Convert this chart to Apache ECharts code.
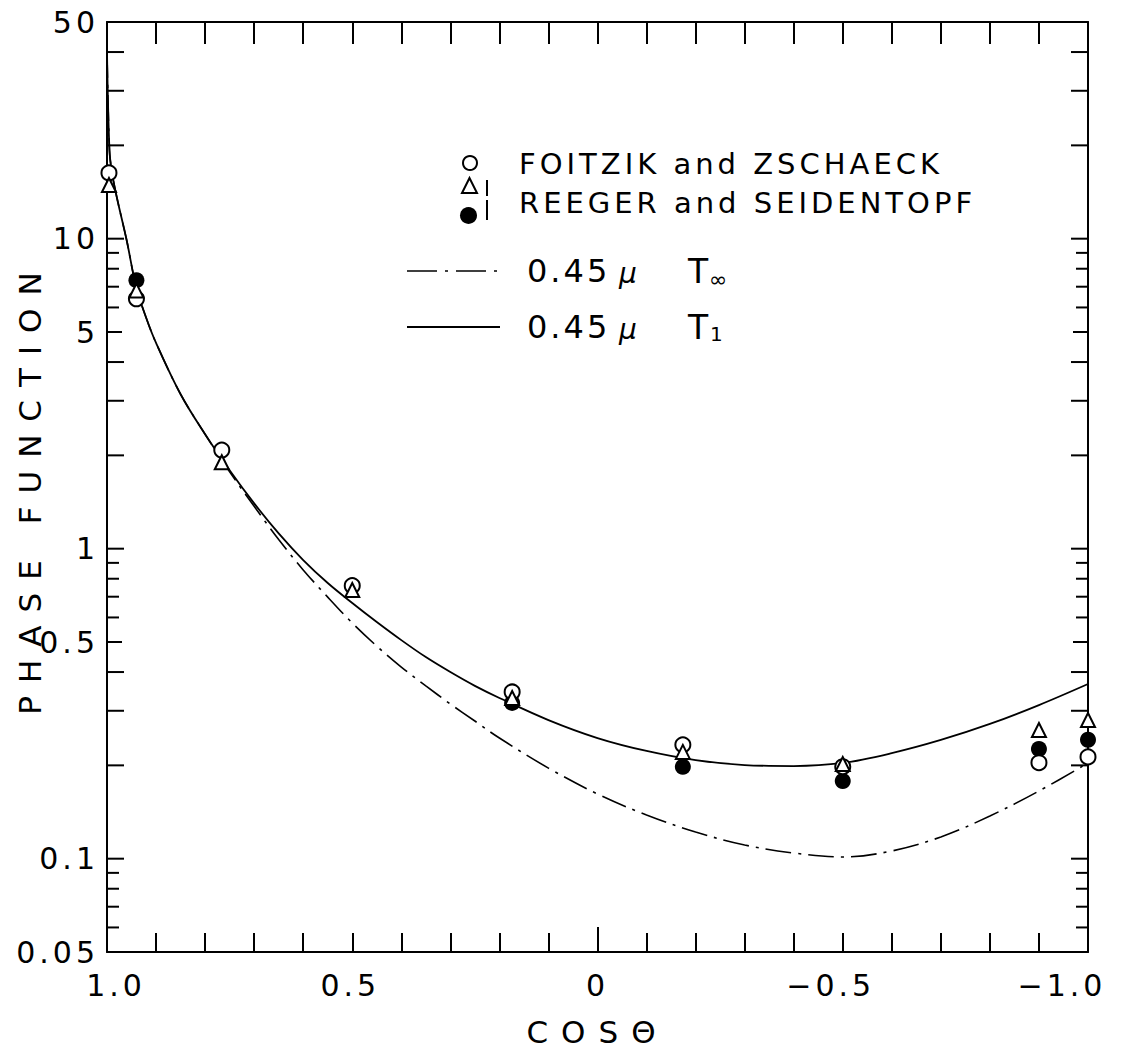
<!DOCTYPE html>
<html><head><meta charset="utf-8">
<script src="https://cdn.jsdelivr.net/npm/echarts@6/dist/echarts.min.js"></script>
<style>
html,body{margin:0;padding:0;background:#fff;}
#c{width:1121px;height:1057px;}
text[style*="29px"]{letter-spacing:4px;}
text[style*="30px"]{letter-spacing:4px;}
text[style*="31px"]{letter-spacing:13px;}
text[style*="32px"]{letter-spacing:3px;}
</style></head><body><div id="c"></div>
<script>
// ---- data ----
const curveCos   = [1.0, 0.995, 0.99, 0.98, 0.96, 0.94, 0.92, 0.9, 0.85, 0.8, 0.75, 0.7, 0.65, 0.6, 0.55, 0.5, 0.45, 0.4, 0.35, 0.3, 0.25, 0.2, 0.1, 0.0, -0.1, -0.2, -0.3, -0.4, -0.5, -0.6, -0.7, -0.8, -0.9, -1.0];
const t1Values   = [40, 19.3, 16.4, 13.6, 9.9, 6.93, 5.55, 4.61, 3.15, 2.34, 1.79, 1.40, 1.12, 0.919, 0.775, 0.668, 0.580, 0.507, 0.447, 0.400, 0.361, 0.330, 0.280, 0.245, 0.2226, 0.208, 0.2005, 0.199, 0.2036, 0.219, 0.2415, 0.272, 0.313, 0.366];
const tInfValues = [40, 19.3, 16.4, 13.6, 9.9, 6.93, 5.55, 4.61, 3.15, 2.34, 1.77, 1.37, 1.07, 0.854, 0.698, 0.576, 0.485, 0.415, 0.361, 0.3155, 0.278, 0.245, 0.196, 0.1617, 0.1383, 0.1219, 0.1107, 0.1043, 0.1013, 0.1059, 0.1175, 0.1373, 0.1653, 0.2036];

const foitzikCos    = [0.996, 0.94, 0.766, 0.5, 0.174, -0.174, -0.5, -0.9, -1.0];
const foitzikValues = [16.3, 6.4, 2.08, 0.76, 0.345, 0.233, 0.198, 0.204, 0.213];
const reegerTriCos    = [0.996, 0.94, 0.766, 0.5, 0.174, -0.174, -0.5, -0.9, -1.0];
const reegerTriValues = [14.9, 6.8, 1.90, 0.736, 0.33, 0.221, 0.202, 0.26, 0.28];
const reegerDotCos    = [0.94, 0.174, -0.174, -0.5, -0.9, -1.0];
const reegerDotValues = [7.35, 0.318, 0.198, 0.178, 0.226, 0.242];

const yTickValues  = [0.06,0.07,0.08,0.09,0.1,0.2,0.3,0.4,0.5,0.6,0.7,0.8,0.9,1,2,3,4,5,6,7,8,9,10,20,30,40];
const yLabelValues = [50, 10, 5, 1, 0.5, 0.1, 0.05];
const yLabelTexts  = ['50','10','5','1','0.5','0.1','0.05'];
const xLabelValues = [1, 0.5, 0, -0.5, -1];
const xLabelTexts  = ['1.0','0.5','0','\u22120.5','\u22121.0'];

const FONT = 'DejaVu Sans';
const chart = echarts.init(document.getElementById('c'), null, {renderer:'svg'});

const pairs = (xs, ys) => xs.map((x,i)=>[x, ys[i]]);
const openStyle = {color:'#fff', borderColor:'#000', borderWidth:2, opacity:1};
// horizontal nudges of the x tick labels, as in the original lettering
const xLabelShift = (v) => v === 1 ? 9 : (v === 0.5 ? -2 : (v === -0.5 ? -12 : (v === -1 ? -26 : 0)));

const option = {
  animation:false,
  backgroundColor:'#fff',
  grid:{left:107, right:33, top:22, bottom:105},
  xAxis:[
    {type:'value', position:'bottom', min:-1, max:1, interval:0.1, inverse:true,
     axisLine:{show:true, onZero:false, lineStyle:{color:'#000', width:2}},
     axisTick:{show:true, inside:true, length:19, lineStyle:{color:'#000', width:2}},
     splitLine:{show:false}, axisLabel:{show:false},
     name:'COS\u0398', nameLocation:'middle', nameGap:64,
     nameTextStyle:{color:'#000', fontSize:31, fontFamily:FONT}},
    {type:'value', position:'top', min:-1, max:1, interval:0.1, inverse:true,
     axisLine:{show:true, onZero:false, lineStyle:{color:'#000', width:2}},
     axisTick:{show:true, inside:true, length:22, lineStyle:{color:'#000', width:2}},
     splitLine:{show:false}, axisLabel:{show:false}},
    {type:'value', position:'bottom', min:-1, max:1, interval:1, inverse:true,
     axisLine:{show:false},
     axisTick:{show:true, inside:true, length:25, lineStyle:{color:'#000', width:2}},
     splitLine:{show:false}, axisLabel:{show:false}}
  ],
  yAxis:[
    {type:'log', logBase:10, min:0.05, max:50, position:'left',
     axisLine:{show:true, onZero:false, lineStyle:{color:'#000', width:2}},
     axisTick:{show:false}, axisLabel:{show:false}, splitLine:{show:false},
     name:'PHASE FUNCTION', nameLocation:'middle', nameGap:62,
     nameTextStyle:{color:'#000', fontSize:31, fontFamily:FONT}},
    {type:'log', logBase:10, min:0.05, max:50, position:'right',
     axisLine:{show:true, onZero:false, lineStyle:{color:'#000', width:2}},
     axisTick:{show:false}, axisLabel:{show:false}, splitLine:{show:false}}
  ],
  series:[
    {type:'custom', name:'yticks', silent:true, xAxisIndex:0, yAxisIndex:0,
     data: yTickValues.map(v=>[0, v]),
     renderItem:(params, api)=>{
       const v = api.value(1);
       const pL = api.coord([1, v]);
       const pR = api.coord([-1, v]);
       const m = Math.round(v / Math.pow(10, Math.floor(Math.log10(v) + 1e-9)));
       const len = m <= 4 ? 17 : (m === 5 ? 15 : 12);
       return {type:'group', children:[
         {type:'line', shape:{x1:pL[0], y1:pL[1], x2:pL[0]+len, y2:pL[1]}, style:{stroke:'#000', lineWidth:2}},
         {type:'line', shape:{x1:pR[0]-len, y1:pR[1], x2:pR[0], y2:pR[1]}, style:{stroke:'#000', lineWidth:2}}
       ]};
     }},
    {type:'custom', name:'ylabels', silent:true, xAxisIndex:0, yAxisIndex:0, clip:false,
     data: yLabelValues.map((v,i)=>[1, v, i]),
     renderItem:(params, api)=>{
       const v = api.value(1);
       const p = api.coord([1, v]);
       return {type:'text', x:p[0]-8, y:p[1],
         style:{text:yLabelTexts[params.dataIndex], fill:'#000', fontSize:30, fontFamily:FONT, align:'right', verticalAlign:'middle'}};
     }},
    {type:'custom', name:'xlabels', silent:true, xAxisIndex:0, yAxisIndex:0, clip:false,
     data: xLabelValues.map((v,i)=>[v, 0.05, i]),
     renderItem:(params, api)=>{
       const v = api.value(0);
       const p = api.coord([v, 0.05]);
       return {type:'text', x:p[0] + xLabelShift(v), y:p[1]+33,
         style:{text:xLabelTexts[params.dataIndex], fill:'#000', fontSize:30, fontFamily:FONT, align:'center', verticalAlign:'middle'}};
     }},
    {type:'line', name:'0.45\u03bc T\u221e', data:pairs(curveCos, tInfValues), showSymbol:false, smooth:0.35,
     lineStyle:{color:'#000', width:1.6, type:[26,7,3,7]}, z:3},
    {type:'line', name:'0.45\u03bc T1', data:pairs(curveCos, t1Values), showSymbol:false, smooth:0.35,
     lineStyle:{color:'#000', width:1.8}, z:3},
    {type:'scatter', name:'REEGER filled', data:pairs(reegerDotCos, reegerDotValues), symbol:'circle', symbolSize:16,
     itemStyle:{color:'#000', opacity:1}, z:4},
    {type:'scatter', name:'FOITZIK and ZSCHAECK', data:pairs(foitzikCos, foitzikValues), symbol:'circle', symbolSize:15,
     itemStyle:openStyle, z:5},
    {type:'scatter', name:'REEGER open', data:pairs(reegerTriCos, reegerTriValues), symbol:'triangle', symbolSize:14,
     itemStyle:openStyle, z:6}
  ],
  graphic:[
    {type:'circle', shape:{cx:470, cy:163, r:7}, style:{fill:'#fff', stroke:'#000', lineWidth:2}},
    {type:'text', x:519, y:164, style:{text:'FOITZIK and ZSCHAECK', fill:'#000', fontSize:29, fontFamily:FONT, verticalAlign:'middle'}},
    {type:'polygon', shape:{points:[[469.5,178],[462,193],[477,193]]}, style:{fill:'#fff', stroke:'#000', lineWidth:2}},
    {type:'circle', shape:{cx:468.5, cy:215.5, r:8.5}, style:{fill:'#000'}},
    {type:'line', shape:{x1:487, y1:180, x2:487, y2:196}, style:{stroke:'#000', lineWidth:2}},
    {type:'line', shape:{x1:487, y1:200, x2:487, y2:220}, style:{stroke:'#000', lineWidth:2}},
    {type:'text', x:519, y:203, style:{text:'REEGER and SEIDENTOPF', fill:'#000', fontSize:29, fontFamily:FONT, verticalAlign:'middle'}},
    {type:'line', shape:{x1:407, y1:271, x2:502, y2:271}, style:{stroke:'#000', lineWidth:1.6, lineDash:[30,8,3,8]}},
    {type:'text', x:527, y:271, style:{text:'0.45', fill:'#000', fontSize:32, fontFamily:FONT, verticalAlign:'middle'}},
    {type:'text', x:619, y:273, style:{text:'\u03bc', fill:'#000', fontSize:28, fontFamily:FONT, fontStyle:'italic', verticalAlign:'middle'}},
    {type:'text', x:688, y:271, style:{text:'T', fill:'#000', fontSize:33, fontFamily:FONT, verticalAlign:'middle'}},
    {type:'text', x:709, y:279, style:{text:'\u221e', fill:'#000', fontSize:22, fontFamily:FONT, verticalAlign:'middle'}},
    {type:'line', shape:{x1:407, y1:327, x2:500, y2:327}, style:{stroke:'#000', lineWidth:1.8}},
    {type:'text', x:527, y:327, style:{text:'0.45', fill:'#000', fontSize:32, fontFamily:FONT, verticalAlign:'middle'}},
    {type:'text', x:619, y:329, style:{text:'\u03bc', fill:'#000', fontSize:28, fontFamily:FONT, fontStyle:'italic', verticalAlign:'middle'}},
    {type:'text', x:688, y:327, style:{text:'T', fill:'#000', fontSize:33, fontFamily:FONT, verticalAlign:'middle'}},
    {type:'text', x:710, y:334, style:{text:'1', fill:'#000', fontSize:20, fontFamily:FONT, verticalAlign:'middle'}}
  ]
};
chart.setOption(option);
</script></body></html>
